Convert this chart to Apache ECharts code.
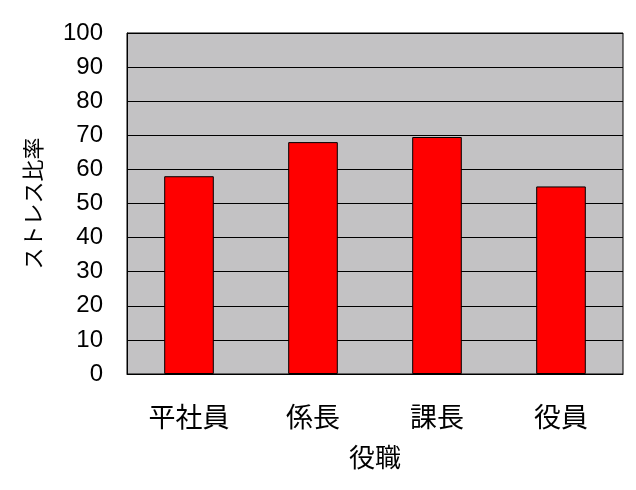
<!DOCTYPE html>
<html><head><meta charset="utf-8">
<script src="https://cdn.jsdelivr.net/npm/echarts@6/dist/echarts.min.js"></script>
<style>html,body{margin:0;padding:0;background:#fff}#c{width:636px;height:490px}</style>
</head><body><div id="c"></div>
<script>
const categories = ['平社員', '係長', '課長', '役員'];
const values = [58, 68, 69.5, 55];
const yTicks = [0, 10, 20, 30, 40, 50, 60, 70, 80, 90, 100];
const xName = '役職';
const yName = 'ストレス比率';

const font = '"Noto Sans CJK JP", sans-serif';
const chart = echarts.init(document.getElementById('c'));
chart.setOption({
  animation: false,
  backgroundColor: '#fff',
  grid: { left: 127, right: 13, top: 33, bottom: 116, show: true, backgroundColor: '#c3c2c4', borderColor: '#000', borderWidth: 1 },
  xAxis: {
    type: 'category', data: categories,
    name: xName, nameLocation: 'middle', nameGap: 70,
    nameTextStyle: { color: '#000', fontSize: 26, fontFamily: font },
    axisLine: { lineStyle: { color: '#000', width: 1 } },
    axisTick: { inside: true, length: 6, lineStyle: { color: '#000' } },
    axisLabel: { color: '#000', fontSize: 27, fontFamily: font, margin: 29 }
  },
  yAxis: {
    type: 'value', min: yTicks[0], max: yTicks[yTicks.length - 1], interval: 10,
    name: yName, nameLocation: 'middle', nameGap: 83, nameRotate: 90,
    nameTextStyle: { color: '#000', fontSize: 22, fontFamily: font },
    axisLine: { show: true, lineStyle: { color: '#000', width: 1 } },
    axisTick: { show: false },
    splitLine: { lineStyle: { color: '#000', width: 1 } },
    axisLabel: { color: '#000', fontSize: 24, fontFamily: 'Liberation Sans, Arial, sans-serif', margin: 24 }
  },
  series: [{
    type: 'bar', data: values, barWidth: '40%',
    itemStyle: { color: '#ff0000', borderColor: '#000', borderWidth: 1 }
  }]
});
</script></body></html>
